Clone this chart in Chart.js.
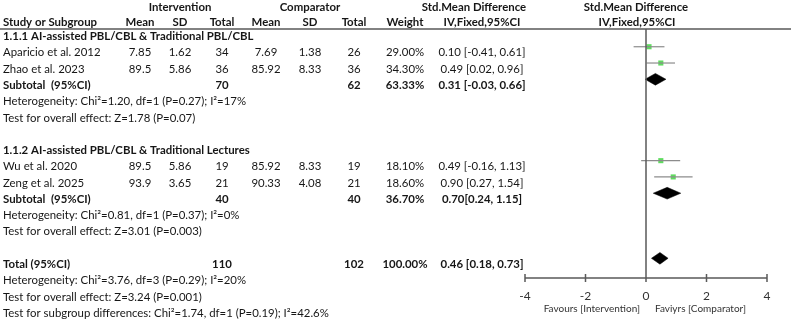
<!DOCTYPE html>
<html lang="en">
<head>
<meta charset="UTF-8">
<title>Forest plot - AI-assisted PBL/CBL</title>
<script src="https://cdn.jsdelivr.net/npm/chart.js"></script>
<style>
  html, body { margin: 0; padding: 0; background: #fff; }
  #wrap { position: relative; width: 791px; height: 320px; }
</style>
</head>
<body>
<div id="wrap"><canvas id="forest"></canvas></div>
<script>
// individual studies
const studies = ['Aparicio et al. 2012', 'Zhao et al. 2023', 'Wu et al. 2020', 'Zeng et al. 2025'];
const studyRows = [1, 2, 8, 9];
const intMean = ['7.85', '89.5', '89.5', '93.9'];
const intSd = ['1.62', '5.86', '5.86', '3.65'];
const intTotal = [34, 36, 19, 21];
const compMean = ['7.69', '85.92', '85.92', '90.33'];
const compSd = ['1.38', '8.33', '8.33', '4.08'];
const compTotal = [26, 36, 19, 21];
const weights = ['29.00%', '34.30%', '18.10%', '18.60%'];
const smd = [0.10, 0.49, 0.49, 0.90];
const ciLow = [-0.41, 0.02, -0.16, 0.27];
const ciHigh = [0.61, 0.96, 1.13, 1.54];

// subtotals and total
const pooledLabels = ['Subtotal  (95%CI)', 'Subtotal  (95%CI)', 'Total (95%CI)'];
const pooledRows = [3, 10, 14];
const pooledIntTotal = [70, 40, 110];
const pooledCompTotal = [62, 40, 102];
const pooledWeight = ['63.33%', '36.70%', '100.00%'];
const pooledSmd = [0.31, 0.70, 0.46];
const pooledLow = [-0.03, 0.24, 0.18];
const pooledHigh = [0.66, 1.15, 0.73];
const pooledCiText = ['0.31 [-0.03, 0.66]', '0.70[0.24, 1.15]', '0.46 [0.18, 0.73]'];

// headings and notes
const groupTitles = ['1.1.1 AI-assisted PBL/CBL & Traditional PBL/CBL', '1.1.2 AI-assisted PBL/CBL & Traditional Lectures'];
const groupRows = [0, 7];
const notes = [
  'Heterogeneity: Chi\u00b2=1.20, df=1 (P=0.27); I\u00b2=17%',
  'Test for overall effect: Z=1.78 (P=0.07)',
  'Heterogeneity: Chi\u00b2=0.81, df=1 (P=0.37); I\u00b2=0%',
  'Test for overall effect: Z=3.01 (P=0.003)',
  'Heterogeneity: Chi\u00b2=3.76, df=3 (P=0.29); I\u00b2=20%',
  'Test for overall effect: Z=3.24 (P=0.001)',
  'Test for subgroup differences: Chi\u00b2=1.74, df=1 (P=0.19); I\u00b2=42.6%'
];
const noteRows = [4, 5, 11, 12, 15, 16, 17];

const xTicks = [-4, -2, 0, 2, 4];
const favourLeft = 'Favours [Intervention]';
const favourRight = 'Faviyrs [Comparator]';

// look
const FONT = 'Lato, "Liberation Sans", sans-serif';
const FSIZE = 11.4;
const TEXT = '#161616';
const AXIS = '#5a5a5a';
const GREEN = '#5fdc5f';
const CI_GREY = '#8c8c8c';
const Y_MIN = -0.09, Y_MAX = 15.21;
const TEXT_DY = 6;
const DIAMOND_H = 0.36;

const cols = { mean1: 140, sd1: 180, tot1: 222, mean2: 266, sd2: 310, tot2: 354, weight: 405, ci: 482 };

function fmt(v) { return v.toFixed(2); }

const datasets = [];

studies.forEach((s, i) => {
  datasets.push({
    type: 'scatter',
    data: [{ x: ciLow[i], y: studyRows[i] }, { x: ciHigh[i], y: studyRows[i] }],
    showLine: true,
    borderColor: CI_GREY,
    borderWidth: 1.2,
    pointRadius: 0
  });
});

datasets.push({
  type: 'scatter',
  data: studies.map((s, i) => ({ x: smd[i], y: studyRows[i] })),
  pointStyle: 'rect',
  pointRadius: 3.6,
  backgroundColor: GREEN,
  borderWidth: 0
});

pooledSmd.forEach((v, i) => {
  const r = pooledRows[i];
  datasets.push({
    type: 'scatter',
    data: [
      { x: pooledLow[i], y: r },
      { x: v, y: r - DIAMOND_H },
      { x: pooledHigh[i], y: r },
      { x: v, y: r + DIAMOND_H },
      { x: pooledLow[i], y: r }
    ],
    showLine: true,
    fill: 'shape',
    backgroundColor: '#000',
    borderColor: '#000',
    borderWidth: 0.5,
    pointRadius: 0,
    tension: 0
  });
});

const tablePlugin = {
  id: 'forestTable',
  afterDraw(chart) {
    const ctx = chart.ctx;
    const xs = chart.scales.x;
    const ys = chart.scales.y;
    const area = chart.chartArea;
    const rowY = r => ys.getPixelForValue(r) + TEXT_DY;

    ctx.save();
    // axes
    ctx.strokeStyle = AXIS;
    ctx.lineWidth = 1.5;
    ctx.beginPath();
    ctx.moveTo(0, area.top); ctx.lineTo(chart.width, area.top);
    const x0 = xs.getPixelForValue(0);
    ctx.moveTo(x0, area.top); ctx.lineTo(x0, area.bottom);
    ctx.moveTo(xs.getPixelForValue(xTicks[0]), area.bottom);
    ctx.lineTo(xs.getPixelForValue(xTicks[xTicks.length - 1]), area.bottom);
    xTicks.forEach(t => {
      const px = xs.getPixelForValue(t);
      ctx.moveTo(px, area.bottom - 4); ctx.lineTo(px, area.bottom + 4);
    });
    ctx.stroke();

    ctx.fillStyle = TEXT;
    ctx.textBaseline = 'middle';
    const put = (txt, x, y, align, bold) => {
      ctx.font = (bold ? 'bold ' : '') + FSIZE + 'px ' + FONT;
      ctx.textAlign = align;
      ctx.fillText(String(txt), x, y);
    };

    // header
    put('Intervention', 180, 7, 'center', true);
    put('Comparator', 310, 7, 'center', true);
    put('Std.Mean Difference', 474, 7, 'center', true);
    put('Std.Mean Difference', 636, 7, 'center', true);
    put('Study or Subgroup', 3, 22, 'left', true);
    put('Mean', cols.mean1, 22, 'center', true);
    put('SD', cols.sd1, 22, 'center', true);
    put('Total', cols.tot1, 22, 'center', true);
    put('Mean', cols.mean2, 22, 'center', true);
    put('SD', cols.sd2, 22, 'center', true);
    put('Total', cols.tot2, 22, 'center', true);
    put('Weight', cols.weight, 22, 'center', true);
    put('IV,Fixed,95%CI', cols.ci, 22, 'center', true);
    put('IV,Fixed,95%CI', 637, 22, 'center', true);

    groupTitles.forEach((t, i) => put(t, 3, rowY(groupRows[i]), 'left', true));

    studies.forEach((s, i) => {
      const y = rowY(studyRows[i]);
      put(s, 3, y, 'left');
      put(intMean[i], cols.mean1, y, 'center');
      put(intSd[i], cols.sd1, y, 'center');
      put(intTotal[i], cols.tot1, y, 'center');
      put(compMean[i], cols.mean2, y, 'center');
      put(compSd[i], cols.sd2, y, 'center');
      put(compTotal[i], cols.tot2, y, 'center');
      put(weights[i], cols.weight, y, 'center');
      put(fmt(smd[i]) + ' [' + fmt(ciLow[i]) + ', ' + fmt(ciHigh[i]) + ']', cols.ci, y, 'center');
    });

    pooledLabels.forEach((s, i) => {
      const y = rowY(pooledRows[i]);
      put(s, 3, y, 'left', true);
      put(pooledIntTotal[i], cols.tot1, y, 'center', true);
      put(pooledCompTotal[i], cols.tot2, y, 'center', true);
      put(pooledWeight[i], cols.weight, y, 'center', true);
      put(pooledCiText[i], cols.ci, y, 'center', true);
    });

    notes.forEach((n, i) => put(n, 3, rowY(noteRows[i]), 'left'));

    ctx.font = '10px ' + FONT;
    ctx.fillStyle = '#333';
    ctx.textAlign = 'right';
    ctx.fillText(favourLeft, x0 - 6, 309);
    ctx.textAlign = 'left';
    ctx.fillText(favourRight, x0 + 9, 309);
    ctx.restore();
  }
};

new Chart(document.getElementById('forest'), {
  type: 'scatter',
  data: { datasets },
  options: {
    responsive: true,
    maintainAspectRatio: false,
    animation: false,
    layout: { padding: { left: 525, right: 24, top: 29, bottom: 0 } },
    plugins: { legend: { display: false }, tooltip: { enabled: false } },
    scales: {
      x: {
        type: 'linear',
        min: -4,
        max: 4,
        afterBuildTicks: s => { s.ticks = xTicks.map(v => ({ value: v })); },
        afterFit: s => { s.height = 42; },
        grid: { display: false, drawTicks: false },
        border: { display: false },
        ticks: { padding: 11, color: '#333', font: { family: FONT, size: 12 } }
      },
      y: {
        type: 'linear',
        display: false,
        reverse: true,
        min: Y_MIN,
        max: Y_MAX
      }
    }
  },
  plugins: [tablePlugin]
});
</script>
</body>
</html>
